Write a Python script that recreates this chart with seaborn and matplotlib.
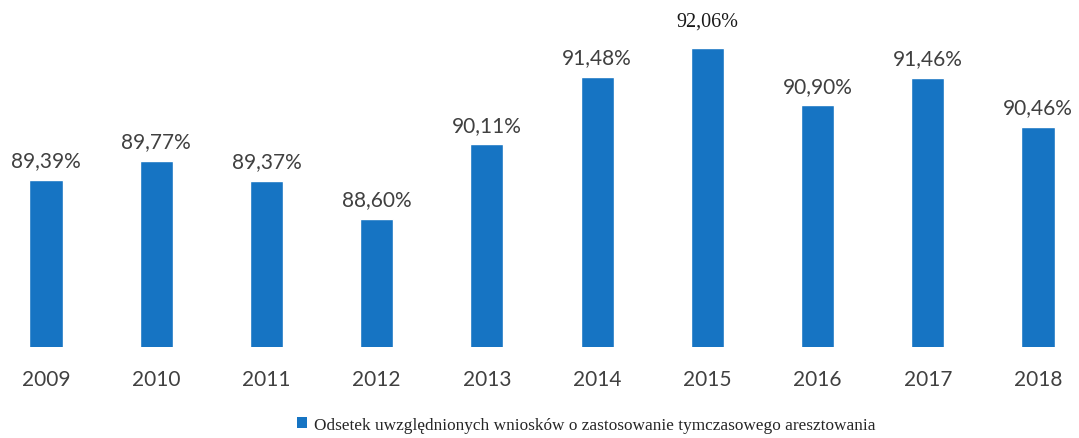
import matplotlib
matplotlib.use("Agg")
import matplotlib.pyplot as plt
import seaborn as sns
import pandas as pd
from matplotlib.patches import Patch

years = ["2009", "2010", "2011", "2012", "2013", "2014", "2015", "2016", "2017", "2018"]
values = [89.39, 89.77, 89.37, 88.60, 90.11, 91.48, 92.06, 90.90, 91.46, 90.46]
legend_label = "Odsetek uwzględnionych wniosków o zastosowanie tymczasowego aresztowania"

sns.set_theme(style="white")
plt.rcParams['font.family'] = ['Lato', 'DejaVu Sans']

df = pd.DataFrame({"year": years, "value": values})

fig = plt.figure(figsize=(10.79, 4.39), dpi=100)
ax = fig.add_axes([2 / 1079, (439 - 348) / 439, 1077 / 1079, 348 / 439])
bar_color = "#1674C3"
sns.barplot(data=df, x="year", y="value", color=bar_color, width=0.3, ax=ax,
            saturation=1)

ax.set_xlim(-0.399, 9.372)
ax.set_ylim(86.0, 86.0 + 348 / 49.3)

for i, v in enumerate(values):
    txt = f"{v:.2f}".replace(".", ",") + "%"
    if years[i] == "2015":
        ax.annotate(txt, (i, v), xytext=(0, 13), textcoords="offset points",
                    ha="center", va="bottom", fontsize=14.5, color="#1a1a1a",
                    family=["Liberation Serif", "DejaVu Serif"])
    else:
        ax.annotate(txt, (i, v), xytext=(0, 7), textcoords="offset points",
                    ha="center", va="bottom", fontsize=15, color="#404040")

for s in ax.spines.values():
    s.set_visible(False)
ax.set_yticks([])
ax.set_xlabel("")
ax.set_ylabel("")
ax.tick_params(axis="x", length=0, pad=16, labelsize=15, labelcolor="#404040")

handle = Patch(facecolor=bar_color, edgecolor="none")
fig.legend([handle], [legend_label], loc="center", bbox_to_anchor=(586 / 1079, 1 - 426 / 439),
           frameon=False, handlelength=0.6, handleheight=0.6, handletextpad=0.4,
           prop={"family": ["Liberation Serif", "DejaVu Serif"], "size": 12.4})

fig.savefig("out.png", dpi=100, facecolor="white")
